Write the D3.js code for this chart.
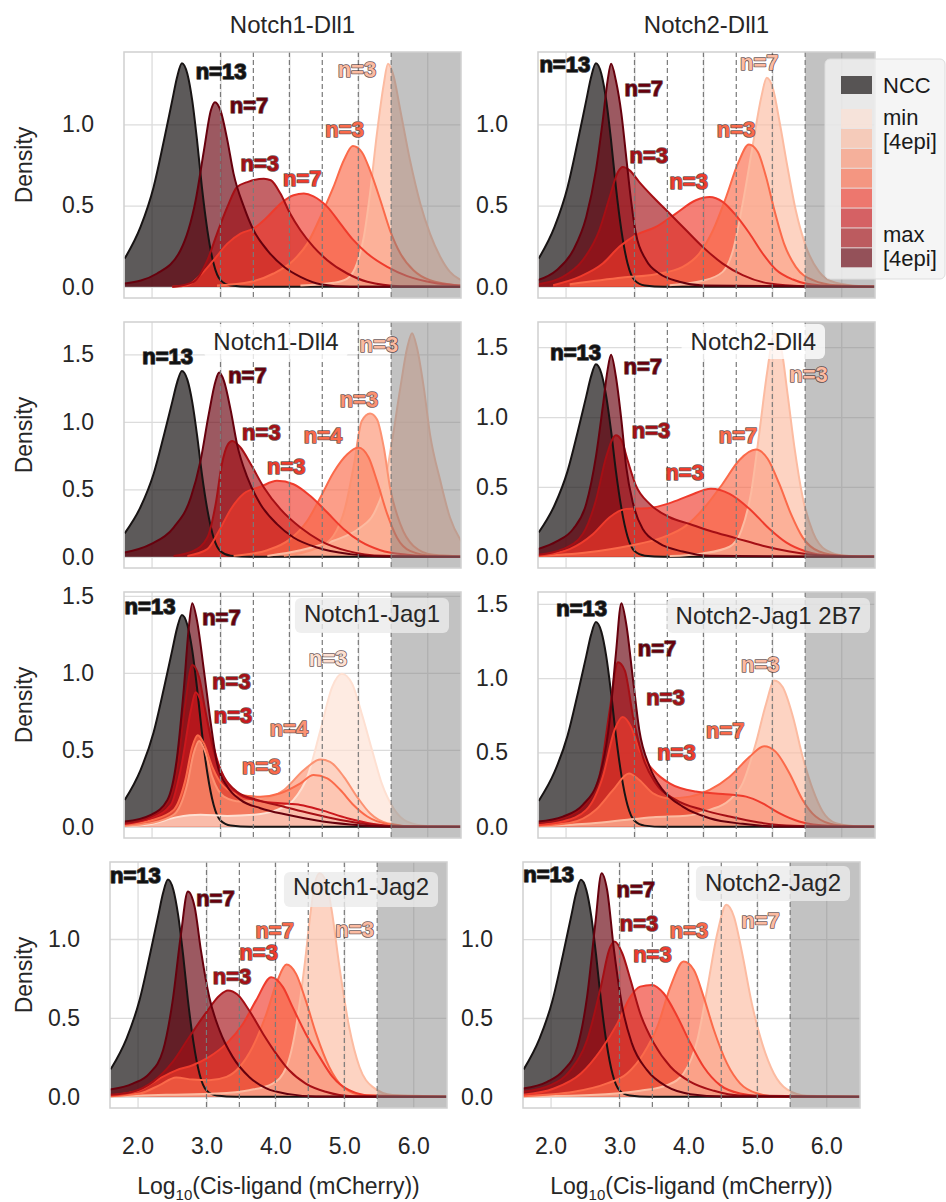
<!DOCTYPE html>
<html>
<head>
<meta charset="utf-8">
<script src="https://cdn.jsdelivr.net/npm/d3@7"></script>
<style>
  body { margin: 0; background: #fff; }
  svg text { font-family: "Liberation Sans", Arial, sans-serif; }
</style>
</head>
<body>
<svg id="fig" width="946" height="1202"></svg>
<script>
// axis values and gates
var xDomain = [1.6, 6.49];
var xTicks = [2, 3, 4, 5, 6];
var densityTicks = [0, 0.5, 1.0, 1.5];
var gateLines = [3, 3.477, 4, 4.477, 5, 5.477];
var grayFrom = 5.477;
var redLevels = ["#fee0d2", "#fcbba1", "#fc9272", "#fb6a4a", "#ef3b2c", "#cb181d", "#a50f15", "#67000d"];
var nccColor = "#181414";

// NCC control density, same in every panel
var nccCurve = [[1.61,0.174],[1.84,0.369],[2.03,0.615],[2.18,0.902],[2.30,1.148],[2.37,1.291],[2.44,1.377],[2.52,1.311],[2.59,1.148],[2.66,0.902],[2.73,0.615],[2.81,0.348],[2.90,0.143],[3.0,0.041],[3.15,0.008],[3.43,0]];

// Notch1-Dll1
var n1dll1Levels = [8, 7, 5, 4, 2];
var n1dll1Series = [
  [[1.61,0.02],[2.08,0.082],[2.42,0.225],[2.64,0.533],[2.76,0.84],[2.86,1.086],[2.92,1.137],[3.0,1.086],[3.10,0.902],[3.19,0.697],[3.34,0.492],[3.48,0.348],[3.68,0.225],[3.92,0.123],[4.16,0.061],[4.45,0.016],[4.88,0]],
  [[2.3,0],[2.61,0.031],[2.81,0.164],[2.95,0.328],[3.10,0.492],[3.24,0.615],[3.39,0.645],[3.63,0.666],[3.73,0.656],[3.87,0.574],[4.01,0.451],[4.16,0.348],[4.35,0.246],[4.55,0.164],[4.84,0.082],[5.13,0.031],[5.61,0.004]],
  [[2.3,0],[2.52,0.01],[2.71,0.072],[2.90,0.164],[3.10,0.266],[3.29,0.328],[3.48,0.359],[3.68,0.43],[3.87,0.512],[4.06,0.564],[4.21,0.574],[4.35,0.557],[4.55,0.492],[4.74,0.389],[4.93,0.287],[5.13,0.205],[5.42,0.123],[5.71,0.066],[6.09,0.025],[6.48,0.008]],
  [[2.95,0.008],[3.44,0.031],[3.77,0.082],[4.06,0.164],[4.26,0.266],[4.45,0.43],[4.64,0.615],[4.79,0.779],[4.92,0.867],[5.05,0.83],[5.17,0.717],[5.32,0.533],[5.46,0.348],[5.61,0.205],[5.80,0.102],[6.04,0.041],[6.48,0.008]],
  [[4.16,0.008],[4.64,0.025],[4.84,0.051],[4.98,0.143],[5.08,0.307],[5.17,0.574],[5.27,0.943],[5.37,1.25],[5.43,1.373],[5.51,1.301],[5.61,1.086],[5.75,0.779],[5.90,0.512],[6.04,0.328],[6.19,0.184],[6.33,0.092],[6.49,0.041]]
];
var n1dll1Text = ["n=13", "n=7", "n=3", "n=7", "n=3", "n=3"];
var n1dll1TextXY = [[2.64,1.281],[3.135,1.072],[3.29,0.713],[3.908,0.619],[4.522,0.922],[4.70,1.291]];

// Notch2-Dll1
var n2dll1Levels = [8, 7, 5, 4, 2];
var n2dll1Series = [
  [[1.6,0.041],[1.87,0.102],[2.11,0.225],[2.30,0.43],[2.44,0.717],[2.54,1.025],[2.61,1.27],[2.66,1.373],[2.73,1.27],[2.81,1.066],[2.88,0.799],[2.95,0.533],[3.02,0.328],[3.17,0.164],[3.36,0.082],[3.65,0.031],[3.99,0.008]],
  [[1.6,0.016],[1.96,0.061],[2.25,0.164],[2.49,0.348],[2.64,0.553],[2.76,0.707],[2.83,0.738],[2.93,0.717],[3.07,0.645],[3.27,0.553],[3.51,0.451],[3.75,0.348],[3.99,0.246],[4.28,0.143],[4.57,0.072],[4.96,0.02],[5.44,0.004]],
  [[1.82,0.01],[2.20,0.061],[2.54,0.143],[2.78,0.246],[3.02,0.318],[3.31,0.369],[3.60,0.451],[3.89,0.533],[4.09,0.553],[4.28,0.523],[4.47,0.441],[4.67,0.328],[4.86,0.205],[5.05,0.107],[5.30,0.045],[5.68,0.01]],
  [[2.06,0.016],[2.83,0.057],[3.31,0.078],[3.70,0.123],[3.94,0.205],[4.14,0.348],[4.33,0.553],[4.50,0.758],[4.66,0.877],[4.79,0.83],[4.91,0.676],[5.03,0.471],[5.17,0.266],[5.34,0.123],[5.59,0.041],[5.92,0.01]],
  [[3.51,0.01],[3.99,0.037],[4.28,0.092],[4.43,0.225],[4.57,0.512],[4.72,0.881],[4.84,1.168],[4.92,1.287],[5.01,1.219],[5.11,1.004],[5.22,0.738],[5.34,0.471],[5.49,0.246],[5.68,0.092],[5.92,0.025],[6.31,0.004]]
];
var n2dll1Text = ["n=13", "n=7", "n=3", "n=3", "n=3", "n=7"];
var n2dll1TextXY = [[1.62,1.322],[2.855,1.172],[2.928,0.764],[3.507,0.605],[4.193,0.922],[4.531,1.336]];

// Notch1-Dll4
var n1dll4Levels = [8, 7, 5, 4, 3, 2];
var n1dll4Series = [
  [[1.61,0.032],[1.99,0.094],[2.32,0.217],[2.57,0.44],[2.71,0.711],[2.83,1.057],[2.93,1.304],[2.98,1.365],[3.05,1.304],[3.15,1.081],[3.24,0.835],[3.39,0.588],[3.58,0.39],[3.82,0.242],[4.06,0.143],[4.40,0.069],[4.88,0.02],[5.37,0.002]],
  [[2.32,0.007],[2.61,0.044],[2.81,0.143],[2.93,0.39],[3.02,0.686],[3.11,0.835],[3.17,0.859],[3.29,0.81],[3.44,0.686],[3.63,0.514],[3.87,0.353],[4.16,0.217],[4.45,0.119],[4.84,0.044],[5.37,0.007]],
  [[2.52,0.007],[2.81,0.057],[2.98,0.193],[3.15,0.353],[3.34,0.469],[3.58,0.519],[3.82,0.563],[4.06,0.538],[4.30,0.452],[4.55,0.328],[4.79,0.205],[5.03,0.114],[5.32,0.049],[5.71,0.015],[6.09,0.002]],
  [[3.19,0.007],[3.68,0.049],[4.01,0.131],[4.26,0.267],[4.45,0.44],[4.64,0.625],[4.84,0.76],[5.0,0.81],[5.15,0.736],[5.27,0.563],[5.42,0.316],[5.56,0.143],[5.75,0.044],[6.09,0.007]],
  [[3.92,0.007],[4.40,0.064],[4.64,0.156],[4.81,0.365],[4.93,0.662],[5.05,1.007],[5.17,1.062],[5.27,1.02],[5.37,0.81],[5.46,0.514],[5.61,0.242],[5.80,0.081],[6.09,0.015]],
  [[3.68,0.007],[4.16,0.049],[4.64,0.119],[5.03,0.217],[5.22,0.316],[5.37,0.514],[5.49,0.859],[5.61,1.254],[5.71,1.551],[5.78,1.657],[5.85,1.551],[5.95,1.254],[6.04,0.909],[6.19,0.563],[6.33,0.291],[6.49,0.119]]
];
var n1dll4Text = ["n=13", "n=7", "n=3", "n=3", "n=4", "n=3", "n=3"];
var n1dll4TextXY = [[1.865,1.427],[3.111,1.291],[3.314,0.864],[3.676,0.612],[4.208,0.847],[4.729,1.111],[5.019,1.514]];

// Notch2-Dll4
var n2dll4Levels = [8, 7, 5, 4, 2];
var n2dll4Series = [
  [[1.6,0.055],[1.87,0.11],[2.11,0.199],[2.30,0.379],[2.44,0.715],[2.54,1.074],[2.61,1.338],[2.66,1.446],[2.73,1.29],[2.81,0.978],[2.88,0.643],[2.98,0.379],[3.12,0.199],[3.36,0.096],[3.70,0.038],[4.09,0.007]],
  [[1.6,0.014],[1.96,0.055],[2.25,0.163],[2.44,0.403],[2.59,0.715],[2.73,0.87],[2.81,0.835],[2.90,0.691],[3.02,0.511],[3.22,0.379],[3.51,0.283],[3.80,0.235],[4.09,0.187],[4.47,0.134],[4.86,0.079],[5.25,0.038],[5.73,0.01]],
  [[1.6,0.007],[2.06,0.055],[2.40,0.163],[2.64,0.283],[2.88,0.343],[3.22,0.35],[3.51,0.384],[3.80,0.439],[4.11,0.487],[4.38,0.451],[4.67,0.343],[4.96,0.199],[5.20,0.103],[5.49,0.038],[5.83,0.01]],
  [[1.6,0.005],[2.30,0.031],[2.93,0.079],[3.41,0.139],[3.75,0.223],[4.04,0.367],[4.28,0.523],[4.52,0.691],[4.76,0.767],[4.93,0.703],[5.10,0.523],[5.27,0.307],[5.44,0.139],[5.68,0.038],[6.02,0.007]],
  [[3.51,0.005],[3.99,0.024],[4.38,0.072],[4.55,0.187],[4.69,0.451],[4.81,0.882],[4.93,1.338],[5.03,1.60],[5.13,1.49],[5.22,1.17],[5.32,0.787],[5.44,0.427],[5.59,0.175],[5.78,0.048],[6.07,0.007]]
];
var n2dll4Text = ["n=13", "n=7", "n=3", "n=3", "n=7", "n=3"];
var n2dll4TextXY = [[1.778,1.405],[2.841,1.309],[2.961,0.851],[3.449,0.547],[4.222,0.815],[5.246,1.254]];

// Notch1-Jag1
var n1jag1Levels = [8, 7, 6, 4, 3, 1];
var n1jag1Series = [
  [[1.61,0.034],[1.99,0.078],[2.23,0.175],[2.37,0.455],[2.47,0.907],[2.54,1.295],[2.59,1.453],[2.66,1.338],[2.76,1.015],[2.86,0.67],[2.95,0.412],[3.10,0.261],[3.29,0.175],[3.58,0.121],[3.97,0.078],[4.40,0.041],[4.88,0.015],[5.37,0.002]],
  [[1.61,0.024],[1.99,0.067],[2.23,0.153],[2.37,0.369],[2.49,0.8],[2.59,1.052],[2.69,0.972],[2.78,0.756],[2.90,0.498],[3.05,0.325],[3.24,0.228],[3.53,0.175],[3.92,0.131],[4.30,0.088],[4.74,0.045],[5.22,0.013],[5.61,0.002]],
  [[1.61,0.019],[1.99,0.056],[2.28,0.142],[2.44,0.412],[2.57,0.756],[2.64,0.875],[2.73,0.8],[2.86,0.584],[3.0,0.369],[3.19,0.239],[3.48,0.175],[3.87,0.153],[4.16,0.142],[4.45,0.11],[4.84,0.056],[5.22,0.019],[5.61,0.002]],
  [[1.61,0.013],[1.99,0.041],[2.32,0.11],[2.49,0.304],[2.59,0.519],[2.67,0.595],[2.76,0.541],[2.88,0.39],[3.05,0.261],[3.29,0.207],[3.58,0.196],[3.87,0.218],[4.16,0.282],[4.35,0.336],[4.55,0.315],[4.74,0.239],[4.93,0.142],[5.13,0.067],[5.42,0.019],[5.85,0.002]],
  [[1.61,0.006],[1.99,0.024],[2.32,0.078],[2.52,0.282],[2.61,0.476],[2.69,0.558],[2.77,0.498],[2.88,0.325],[3.05,0.196],[3.29,0.164],[3.58,0.175],[3.92,0.239],[4.21,0.369],[4.45,0.437],[4.59,0.422],[4.79,0.325],[4.98,0.196],[5.17,0.088],[5.42,0.024],[5.85,0.002]],
  [[1.61,0.006],[1.99,0.019],[2.37,0.063],[2.71,0.078],[3.10,0.071],[3.48,0.078],[3.82,0.11],[4.06,0.175],[4.26,0.325],[4.45,0.627],[4.62,0.907],[4.76,0.994],[4.91,0.929],[5.05,0.735],[5.20,0.498],[5.34,0.282],[5.51,0.121],[5.71,0.034],[6.0,0.006]]
];
var n1jag1Text = ["n=13", "n=7", "n=3", "n=3", "n=3", "n=4", "n=3"];
var n1jag1TextXY = [[1.609,1.381],[2.734,1.313],[2.879,0.897],[2.903,0.675],[3.314,0.343],[3.715,0.591],[4.28,1.043]];

// Notch2-Jag1 2B7
var n2jag1Levels = [8, 7, 5, 4, 2];
var n2jag1Series = [
  [[1.6,0.036],[1.96,0.069],[2.25,0.147],[2.49,0.337],[2.64,0.717],[2.73,1.163],[2.81,1.504],[2.88,1.364],[2.98,0.984],[3.07,0.65],[3.22,0.404],[3.41,0.248],[3.70,0.136],[4.09,0.058],[4.57,0.02],[5.05,0.002]],
  [[1.6,0.025],[1.96,0.058],[2.25,0.136],[2.49,0.337],[2.64,0.783],[2.76,1.107],[2.86,1.051],[2.98,0.739],[3.12,0.471],[3.31,0.292],[3.60,0.181],[3.99,0.114],[4.38,0.069],[4.81,0.029],[5.30,0.007]],
  [[1.6,0.013],[1.96,0.036],[2.30,0.114],[2.54,0.337],[2.71,0.65],[2.83,0.739],[2.95,0.672],[3.07,0.516],[3.27,0.382],[3.51,0.292],[3.89,0.237],[4.28,0.221],[4.62,0.203],[4.86,0.158],[5.10,0.092],[5.39,0.036],[5.83,0.007]],
  [[1.6,0.007],[2.06,0.025],[2.44,0.114],[2.69,0.248],[2.92,0.359],[3.07,0.315],[3.27,0.225],[3.51,0.192],[3.80,0.203],[4.09,0.248],[4.38,0.337],[4.67,0.471],[4.88,0.542],[5.05,0.504],[5.25,0.359],[5.44,0.181],[5.63,0.069],[5.92,0.013],[6.31,0.002]],
  [[1.6,0.004],[2.30,0.02],[2.78,0.042],[3.27,0.065],[3.75,0.074],[4.09,0.114],[4.38,0.181],[4.57,0.292],[4.76,0.56],[4.91,0.828],[5.03,0.984],[5.15,0.94],[5.30,0.739],[5.44,0.471],[5.59,0.248],[5.73,0.103],[5.92,0.025],[6.21,0.004]]
];
var n2jag1Text = ["n=13", "n=7", "n=3", "n=3", "n=7", "n=3"];
var n2jag1TextXY = [[1.865,1.42],[3.048,1.152],[3.169,0.817],[3.329,0.449],[4.039,0.6],[4.546,1.04]];

// Notch1-Jag2
var n1jag2Levels = [8, 7, 5, 4, 2];
var n1jag2Series = [
  [[1.6,0.046],[1.93,0.084],[2.17,0.147],[2.37,0.295],[2.51,0.611],[2.63,1.032],[2.73,1.301],[2.83,1.2],[2.92,0.926],[3.04,0.632],[3.19,0.421],[3.38,0.253],[3.62,0.126],[3.87,0.053],[4.20,0.017],[4.59,0.002]],
  [[1.6,0.013],[1.93,0.032],[2.22,0.095],[2.51,0.221],[2.75,0.379],[3.0,0.537],[3.19,0.642],[3.31,0.674],[3.45,0.648],[3.62,0.547],[3.82,0.4],[4.01,0.274],[4.20,0.168],[4.44,0.084],[4.73,0.032],[5.12,0.004]],
  [[1.6,0.008],[2.03,0.042],[2.32,0.116],[2.56,0.168],[2.80,0.2],[3.04,0.253],[3.29,0.337],[3.53,0.463],[3.72,0.611],[3.94,0.758],[4.11,0.695],[4.25,0.568],[4.44,0.4],[4.64,0.253],[4.83,0.126],[5.07,0.042],[5.41,0.006]],
  [[1.6,0.004],[2.03,0.021],[2.32,0.074],[2.56,0.122],[2.80,0.109],[3.04,0.105],[3.29,0.126],[3.48,0.189],[3.67,0.316],[3.87,0.526],[4.03,0.737],[4.16,0.838],[4.30,0.779],[4.44,0.611],[4.59,0.4],[4.78,0.189],[4.98,0.063],[5.27,0.011]],
  [[1.6,0.002],[2.42,0.013],[3.14,0.021],[3.62,0.042],[3.96,0.084],[4.16,0.189],[4.30,0.442],[4.42,0.821],[4.52,1.2],[4.57,1.347],[4.64,1.417],[4.73,1.368],[4.81,1.2],[4.93,0.821],[5.07,0.442],[5.22,0.189],[5.41,0.063],[5.70,0.011]]
];
var n1jag2Text = ["n=13", "n=7", "n=3", "n=3", "n=7", "n=3"];
var n1jag2TextXY = [[1.6,1.352],[2.85,1.211],[3.092,0.716],[3.478,0.867],[3.71,1.006],[4.87,1.011]];

// Notch2-Jag2
var n2jag2Levels = [8, 7, 5, 4, 2];
var n2jag2Series = [
  [[1.6,0.053],[1.95,0.095],[2.19,0.169],[2.39,0.318],[2.53,0.636],[2.65,1.102],[2.74,1.419],[2.82,1.314],[2.92,0.932],[3.04,0.572],[3.18,0.339],[3.40,0.169],[3.69,0.064],[4.03,0.017],[4.51,0.002]],
  [[1.6,0.032],[2.0,0.074],[2.29,0.169],[2.53,0.36],[2.73,0.699],[2.85,0.932],[2.93,0.985],[3.04,0.911],[3.16,0.742],[3.30,0.53],[3.50,0.339],[3.74,0.191],[4.03,0.095],[4.37,0.038],[4.75,0.008]],
  [[1.6,0.013],[2.05,0.053],[2.44,0.148],[2.73,0.297],[2.97,0.466],[3.16,0.636],[3.30,0.699],[3.47,0.71],[3.64,0.657],[3.84,0.508],[4.03,0.339],[4.22,0.191],[4.46,0.074],[4.75,0.021],[5.14,0.002]],
  [[1.6,0.004],[2.34,0.032],[2.82,0.085],[3.11,0.148],[3.35,0.275],[3.55,0.445],[3.74,0.699],[3.93,0.858],[4.08,0.805],[4.22,0.636],[4.37,0.424],[4.56,0.212],[4.75,0.085],[5.0,0.021],[5.29,0.002]],
  [[1.6,0.002],[2.58,0.011],[3.30,0.038],[3.69,0.074],[3.93,0.148],[4.13,0.36],[4.27,0.678],[4.42,1.038],[4.55,1.218],[4.66,1.144],[4.78,0.911],[4.92,0.593],[5.07,0.339],[5.24,0.148],[5.43,0.047],[5.72,0.006]]
];
var n2jag2Text = ["n=13", "n=7", "n=3", "n=3", "n=3", "n=7"];
var n2jag2TextXY = [[1.604,1.36],[2.957,1.271],[3.005,1.049],[3.198,0.858],[3.729,1.006],[4.768,1.07]];

var titles = ["Notch1-Dll1", "Notch2-Dll1", "Notch1-Dll4", "Notch2-Dll4", "Notch1-Jag1", "Notch2-Jag1 2B7", "Notch1-Jag2", "Notch2-Jag2"];
var legendLabels = ["NCC", "min", "[4epi]", "max", "[4epi]"];

var panels = [
  {series: n1dll1Series, levels: n1dll1Levels, text: n1dll1Text, textXY: n1dll1TextXY},
  {series: n2dll1Series, levels: n2dll1Levels, text: n2dll1Text, textXY: n2dll1TextXY},
  {series: n1dll4Series, levels: n1dll4Levels, text: n1dll4Text, textXY: n1dll4TextXY},
  {series: n2dll4Series, levels: n2dll4Levels, text: n2dll4Text, textXY: n2dll4TextXY},
  {series: n1jag1Series, levels: n1jag1Levels, text: n1jag1Text, textXY: n1jag1TextXY},
  {series: n2jag1Series, levels: n2jag1Levels, text: n2jag1Text, textXY: n2jag1TextXY},
  {series: n1jag2Series, levels: n1jag2Levels, text: n1jag2Text, textXY: n1jag2TextXY},
  {series: n2jag2Series, levels: n2jag2Levels, text: n2jag2Text, textXY: n2jag2TextXY}
];

var svg = d3.select("#fig");
var W = 337, H = 246;
var panelLeft = [124, 538, 124, 538, 124, 538, 110, 523];
var panelTop = [52, 52, 322, 322, 592, 592, 862, 862];
// where the panel name sits: above, centred inside, or right-aligned inside a box
var titleMode = ["above", "above", "center", "right", "right", "right", "right", "right"];
var titleRight = [0, 0, 0, 59, 21, 14, 18, 19];
var titleBase = [0, 0, 28, 28, 30, 32, 33, 29];
var boxTop = [0, 0, 2, 2, 6, 6, 10, 4];
var boxFill = ["none", "none", "#ffffff", "#ffffff", "#ebebeb", "#ebebeb", "#ebebeb", "#ebebeb"];

panels.forEach(function(p, i) {
    var g = svg.append("g")
        .attr("transform", "translate(" + panelLeft[i] + "," + panelTop[i] + ")");

    var xScale = d3.scaleLinear().domain(xDomain).range([0, W]);
    var peak = d3.max(p.series.concat([nccCurve]), function(s) {
        return d3.max(s, function(d) { return d[1]; });
    });
    var yScale = d3.scaleLinear().domain([-0.05 * peak, 1.05 * peak]).range([H, 0]);
    var yTicks = densityTicks.filter(function(v) { return v <= yScale.domain()[1]; });

    //grid + tick labels
    var gy = g.append("g")
        .call(d3.axisLeft(yScale).tickValues(yTicks).tickFormat(d3.format(".1f"))
            .tickSize(-W).tickPadding(30));
    var gx = g.append("g")
        .attr("transform", "translate(0," + H + ")")
        .call(d3.axisBottom(xScale).tickValues(xTicks)
            .tickFormat(i >= 6 ? d3.format(".1f") : function() { return ""; })
            .tickSize(-H).tickPadding(30));
    [gx, gy].forEach(function(a) {
        a.select(".domain").remove();
        a.selectAll(".tick line").attr("stroke", "#dcdcdc").attr("stroke-width", 1.3);
        a.selectAll(".tick text").attr("font-size", 23).attr("fill", "#262626");
    });

    g.append("clipPath").attr("id", "clip" + i)
        .append("rect").attr("width", W).attr("height", H);
    var plot = g.append("g").attr("clip-path", "url(#clip" + i + ")");

    var area = d3.area()
        .x(function(d) { return xScale(d[0]); })
        .y0(yScale(0))
        .y1(function(d) { return yScale(d[1]); })
        .curve(d3.curveMonotoneX);
    var line = d3.line()
        .x(function(d) { return xScale(d[0]); })
        .y(function(d) { return yScale(d[1]); })
        .curve(d3.curveMonotoneX);

    // density sits on zero out to the right edge of the panel
    var toEdge = function(s) { return s.concat([[xDomain[1] + 0.3, 0]]); };
    var curves = [nccCurve].concat(p.series).map(toEdge);
    var colors = [nccColor].concat(p.levels.map(function(l) { return redLevels[l - 1]; }));

    //fills: control first, then dark -> light
    curves.forEach(function(s, k) {
        plot.append("path")
            .attr("d", area(s))
            .attr("fill", colors[k])
            .attr("fill-opacity", k === 0 ? 0.7 : 0.65);
    });
    //outlines: control, then light -> dark so the darkest sits on the baseline
    plot.append("path").attr("d", line(curves[0]))
        .attr("fill", "none").attr("stroke", colors[0]).attr("stroke-width", 2);
    for (var k = curves.length - 1; k >= 1; k--) {
        plot.append("path").attr("d", line(curves[k]))
            .attr("fill", "none").attr("stroke", colors[k]).attr("stroke-width", 2);
    }

    //gate lines
    gateLines.forEach(function(v) {
        plot.append("line")
            .attr("x1", xScale(v)).attr("x2", xScale(v))
            .attr("y1", 0).attr("y2", H)
            .attr("stroke", "#7a7a7a").attr("stroke-width", 1.2)
            .attr("stroke-dasharray", "5,3");
    });

    //saturated region
    plot.append("rect")
        .attr("x", xScale(grayFrom)).attr("y", 0)
        .attr("width", W - xScale(grayFrom)).attr("height", H)
        .attr("fill", "#808080").attr("fill-opacity", 0.48);

    g.append("rect")
        .attr("width", W).attr("height", H)
        .attr("fill", "none").attr("stroke", "#d0d0d0").attr("stroke-width", 1.5);

    // n= labels
    p.text.forEach(function(t, k) {
        g.append("text")
            .attr("x", xScale(p.textXY[k][0]))
            .attr("y", yScale(p.textXY[k][1]))
            .attr("font-size", 22).attr("font-weight", "bold")
            .attr("fill", k === 0 ? "#111" : colors[k])
            .attr("stroke", k === 0 ? "#000" : "#3a2020")
            .attr("stroke-opacity", 0.75)
            .attr("stroke-width", 1.6)
            .attr("stroke-linejoin", "round")
            .attr("paint-order", "stroke")
            .text(t);
    });

    // panel title
    if (titleMode[i] === "above") {
        g.append("text")
            .attr("x", W / 2).attr("y", -19)
            .attr("text-anchor", "middle")
            .attr("font-size", 24).attr("fill", "#262626")
            .text(titles[i]);
    } else {
        var tg = g.append("g");
        var box = tg.append("rect");
        var tt = tg.append("text")
            .attr("y", titleBase[i])
            .attr("font-size", 24).attr("fill", "#262626")
            .text(titles[i]);
        if (titleMode[i] === "center") {
            tt.attr("x", 152).attr("text-anchor", "middle");
        } else {
            tt.attr("x", W - titleRight[i]).attr("text-anchor", "end");
        }
        var bb = tt.node().getBBox();
        box.attr("x", bb.x - 9).attr("y", boxTop[i])
            .attr("width", bb.width + 18).attr("height", 35)
            .attr("rx", 6)
            .attr("fill", boxFill[i]).attr("fill-opacity", 0.8);
    }

    // axis titles
    if (i % 2 === 0) {
        svg.append("text")
            .attr("transform", "translate(32," + (panelTop[i] + H / 2 - 10) + ") rotate(-90)")
            .attr("text-anchor", "middle")
            .attr("font-size", 23).attr("fill", "#262626")
            .text("Density");
    }
    if (i >= 6) {
        var xl = svg.append("text")
            .attr("x", panelLeft[i] + W / 2)
            .attr("y", panelTop[i] + H + 86)
            .attr("text-anchor", "middle")
            .attr("font-size", 23).attr("fill", "#262626");
        xl.append("tspan").text("Log");
        xl.append("tspan").attr("font-size", 15).attr("dy", 6).text("10");
        xl.append("tspan").attr("dy", -6).text("(Cis-ligand (mCherry))");
    }
});

// legend (sits on the Notch2-Dll1 panel)
var leg = svg.append("g").attr("transform", "translate(825,59)");
leg.append("rect")
    .attr("width", 120).attr("height", 220).attr("rx", 5)
    .attr("fill", "#f2f2f2").attr("fill-opacity", 0.8)
    .attr("stroke", "#dddddd");
leg.append("rect")
    .attr("x", 16).attr("y", 17).attr("width", 31).attr("height", 18)
    .attr("fill", nccColor).attr("fill-opacity", 0.7);
redLevels.forEach(function(c, k) {
    leg.append("rect")
        .attr("x", 16).attr("y", 50 + k * 19.9)
        .attr("width", 31).attr("height", 19)
        .attr("fill", c).attr("fill-opacity", 0.65);
});
var legY = [34, 66, 90, 183, 207];
legendLabels.forEach(function(t, k) {
    leg.append("text")
        .attr("x", 58).attr("y", legY[k])
        .attr("font-size", 22).attr("fill", "#1a1a1a")
        .text(t);
});
</script>
</body>
</html>
